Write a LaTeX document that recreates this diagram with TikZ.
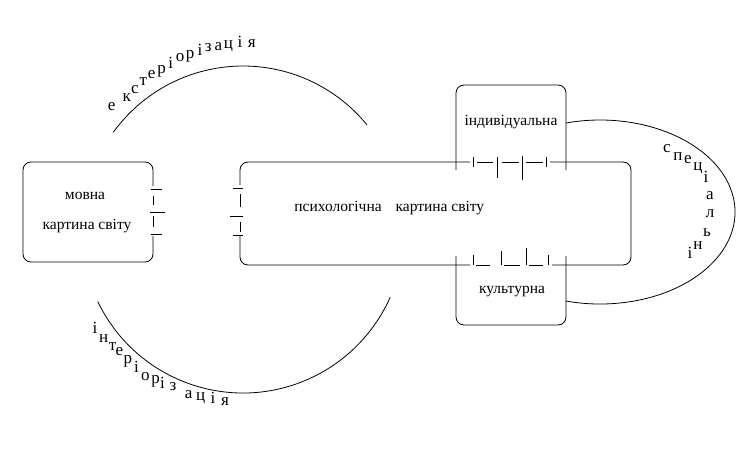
\documentclass[tikz,border=0pt]{standalone}
\usepackage{fontspec}
\setmainfont{Liberation Serif}
\begin{document}
\begin{tikzpicture}[x=1pt,y=-1pt, line width=0.8pt,
  lbl/.style={font=\fontsize{15.5}{18}\selectfont, inner sep=0pt, anchor=mid},
  ltr/.style={font=\fontsize{17}{20}\selectfont, inner sep=0pt, anchor=mid},
  frame/.style={rounded corners=8pt},
]
\useasboundingbox (0,0) rectangle (756,452);

% мовна box with broken right edge
\draw[frame] (153,186) -- (153,162) -- (23,162) -- (23,262) -- (153,262) -- (153,236);
\draw (151,189) -- (162,189);
\draw (153,196) -- (153,205);
\draw (150,212) -- (165,212);
\draw (153,216) -- (153,227);
\draw (151,234) -- (162,234);

% big box, left edge broken
\draw[frame] (470,162) -- (240,162) -- (240,185);
\draw (233,188) -- (243,188);
\draw (240,194) -- (240,207);
\draw (230,216) -- (243,216);
\draw (240,222) -- (240,232);
\draw (233,235) -- (243,235);
\draw[frame] (240,236) -- (240,265) -- (470,265);
\draw[frame] (550,162) -- (631,162) -- (631,265) -- (552,265);
% top broken segment
\draw (473,157) -- (473,167);
\draw (477,162) -- (493,162);
\draw (497,157) -- (497,178);
\draw (502,162) -- (519,162);
\draw (522,156) -- (522,180);
\draw (526,162) -- (543,162);
\draw (546,157) -- (546,167);
% bottom broken segment
\draw (473,255) -- (473,265);
\draw (476,265) -- (490,265);
\draw (501,251) -- (501,265);
\draw (504,265) -- (520,265);
\draw (526,248) -- (526,265);
\draw (529,265) -- (543,265);
\draw (548,255) -- (548,265);

% individual / cultural boxes
\draw[frame] (456,170) -- (456,85) -- (566,85) -- (566,170);
\draw[frame] (456,256) -- (456,325) -- (566,325) -- (566,256);

% ellipse arc
\draw (566,123) arc[start angle=-104.6, end angle=104.6, x radius=135, y radius=92];

% upper and lower arcs
\draw (243,226) ++(-144.1:160) arc[start angle=-144.1, end angle=-39.2, radius=160];
\draw (243,232) ++(154.4:161) arc[start angle=154.4, end angle=23.9, radius=161];

% texts
\node[lbl] (mv1) at (85,197) {мовна};
\node[lbl] (mv2) at (87,227) {картина світу};
\node[lbl, anchor=mid west] (ps) at (294,209) {психологічна\hspace{10pt} картина світу};
\node[lbl] (ind) at (511,123.5) {індивідуальна};
\node[lbl] (kul) at (512,291.5) {культурна};

\foreach \x/\y/\c [count=\i] in {111.7/108/е, 126.7/99.7/к, 135/91.3/с, 143.3/83/т, 151.7/76.3/е, 161.7/71.3/р, 170.7/66.3/і, 180/59.7/о, 190/56.3/р, 200/53/і, 208.3/49.7/з, 218.3/48/а, 228.3/46.3/ц, 240/45.3/і, 251.7/45.3/я}
  \node[ltr] (e\i) at (\x,\y) {\c};

\foreach \x/\y/\c [count=\i] in {95/331/і, 103.7/340/н, 112.5/348/т, 119.3/353/е, 127.8/361.7/р, 136.6/370/і, 145.3/378/о, 155.7/381.7/р, 162.6/386.7/і, 173/388.3/з, 188.6/396.7/а, 200.7/398.3/ц, 212.9/401.7/і, 225/403.3/я}
  \node[ltr] (n\i) at (\x,\y) {\c};

\foreach \x/\y/\c [count=\i] in {667/150/с, 678/158/п, 688/161/е, 698/168/ц, 706/180/і, 710/197/а, 710/215/л, 707/234/ь, 698/247/н, 690/256/і}
  \node[ltr] (s\i) at (\x,\y) {\c};
\end{tikzpicture}
\end{document}
